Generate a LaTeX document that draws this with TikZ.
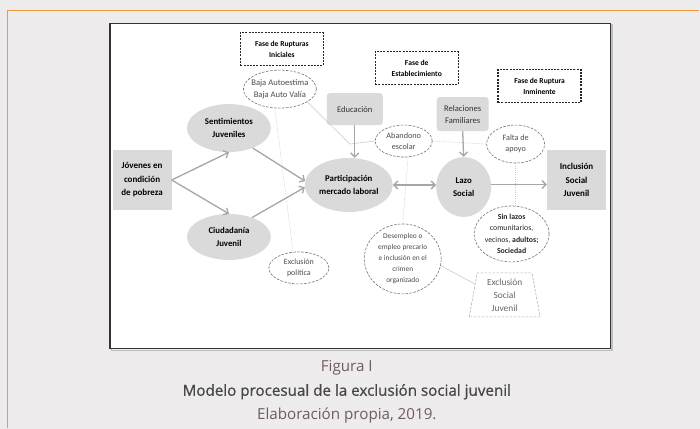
\documentclass[tikz,border=0pt]{standalone}
\usepackage{fontspec}
\setmainfont{Carlito}
\newfontfamily\piefont{Open Sans}
\newfontfamily\piefontgruesa[FakeBold=0.7]{Open Sans}
\usepackage{xcolor}
\usetikzlibrary{shapes.geometric,arrows.meta}
\definecolor{fondo}{RGB}{237,235,235}
\definecolor{naranja}{RGB}{242,153,61}
\definecolor{relleno}{RGB}{218,218,218}
\definecolor{flechagris}{RGB}{166,166,166}
\definecolor{pietexto}{RGB}{112,92,96}

\begin{document}
\begin{tikzpicture}[scale=1.000000,x=1pt,y=1pt,
  fase/.style={draw=black!85,line width=1.3pt,dash pattern=on 2pt off 1.2pt,fill=white,inner sep=0pt,align=center,font=\fontsize{7.6}{11}\selectfont\bfseries,minimum width=83pt,minimum height=33pt},
  ruptura/.style={ellipse,draw=black!55,line width=0.6pt,dash pattern=on 2.6pt off 1.4pt,fill=white,inner sep=-6pt,align=center,text=black!70,font=\fontsize{7.4}{11}\selectfont},
  etapa/.style={ellipse,fill=relleno,inner sep=-4pt,align=center,font=\fontsize{8.8}{12.5}\selectfont\bfseries},
  cuadro/.style={rectangle,fill=relleno,inner sep=0pt,align=center,font=\fontsize{9}{13.5}\selectfont\bfseries},
  ambito/.style={rectangle,rounded corners=3pt,fill=relleno,inner sep=0pt,align=center,text=black!80,font=\fontsize{8.6}{12}\selectfont},
  flecha/.style={draw=flechagris,line width=1.3pt,-{Straight Barb[length=4pt,width=8pt]}},
  flechados/.style={flecha,{Straight Barb[length=4pt,width=8pt]}-{Straight Barb[length=4pt,width=8pt]}},
  enlace/.style={draw=black!22,line width=0.5pt},
  punteado/.style={enlace,dash pattern=on 1pt off 1.2pt},
]
% Drawing page and frame
\filldraw[color=fondo] (0.000000,0.000000) rectangle (700.000000,-428.000000);
\draw[color=naranja,line width=1.2pt] (7.000000,-428.000000) -- (7.000000,-10.500000) -- (700.000000,-10.500000);
\draw[color=black!25,line width=1.5pt] (111.500000,-24.500000) rectangle (612.500000,-350.500000);
\filldraw[fill=white,draw=black!80,line width=1.3pt] (110.000000,-23.000000) rectangle (611.000000,-349.000000);
% Done with frame; drawing phases
\node[fase] (rupturas) at (282.000000,-49.000000) {Fase de Rupturas\\Iniciales};
\node[fase] (establecimiento) at (417.000000,-68.000000) {Fase de\\Establecimiento};
\node[fase] (inminente) at (540.000000,-86.000000) {Fase de Ruptura\\Inminente};
% Drawing nodes
\node[ruptura,minimum width=73pt,minimum height=38pt,font=\fontsize{8.6}{11.5}\selectfont] (autoestima) at (280.000000,-89.000000) {Baja Autoestima\\Baja Auto Valía};
\node[ambito,minimum width=56pt,minimum height=32pt] (educacion) at (355.000000,-109.000000) {Educación};
\node[ambito,minimum width=52pt,minimum height=34pt] (familia) at (463.000000,-114.000000) {Relaciones\\Familiares};
\node[etapa,minimum width=84pt,minimum height=48pt] (sentimientos) at (229.000000,-128.000000) {Sentimientos\\Juveniles};
\node[cuadro,minimum width=59pt,minimum height=60pt] (jovenes) at (142.000000,-180.000000) {Jóvenes en\\condición\\de pobreza};
\node[etapa,minimum width=84pt,minimum height=46pt] (ciudadania) at (229.000000,-237.000000) {Ciudadanía\\Juvenil};
\node[etapa,minimum width=88pt,minimum height=54pt] (mercado) at (349.000000,-185.000000) {Participación\\mercado laboral};
\node[ruptura,minimum width=57pt,minimum height=32pt,font=\fontsize{8.2}{11}\selectfont] (abandono) at (404.000000,-141.000000) {Abandono\\escolar};
\node[etapa,minimum width=55pt,minimum height=60pt] (lazo) at (464.000000,-187.000000) {Lazo\\Social};
\node[ruptura,minimum width=58pt,minimum height=38pt,font=\fontsize{8.2}{11}\selectfont] (apoyo) at (516.000000,-144.000000) {Falta de\\apoyo};
\node[cuadro,minimum width=59pt,minimum height=61pt] (inclusion) at (577.000000,-180.000000) {Inclusión\\Social\\Juvenil};
\node[ruptura,minimum width=75pt,minimum height=56pt,text=black!85,font=\fontsize{7.8}{11.5}\selectfont] (sinlazos) at (512.000000,-234.000000) {\textbf{Sin lazos}\\comunitarios,\\vecinos, \textbf{adultos;}\\\textbf{Sociedad}};
\node[ruptura,minimum width=77pt,minimum height=70pt] (desempleo) at (403.000000,-259.000000) {Desempleo o\\empleo precario\\e inclusión en el\\crimen\\organizado};
\node[ruptura,minimum width=60pt,minimum height=32pt,font=\fontsize{8}{11}\selectfont] (politica) at (299.000000,-268.000000) {Exclusión\\política};
\node[trapezium,trapezium angle=76,trapezium stretches body,draw=black!30,line width=0.6pt,dash pattern=on 2.6pt off 1.4pt,minimum width=71pt,minimum height=44pt,inner sep=0pt,align=center,text=black!60,font=\fontsize{9.4}{13}\selectfont] (exclusion) at (505.000000,-295.000000) {Exclusión\\Social\\Juvenil};
% Done with nodes; drawing faint links
\coordinate (quiebre) at (350.000000,-144.000000);
\draw[punteado] (autoestima.255) -- (politica.110);
\draw[enlace] (autoestima.-25) -- (quiebre) -- (abandono.west);
\draw[punteado] (abandono.east) -- (apoyo.west);
\draw[punteado] (abandono.-75) -- (desempleo.north);
\draw[punteado] (apoyo.south) -- (apoyo.south |- sinlazos.north);
\draw[enlace] (desempleo.-10) -- (exclusion.160);
% Drawing arrows
\draw[flecha] (jovenes.east) -- (sentimientos.south);
\draw[flecha] (jovenes.east) -- (ciudadania.north);
\draw[flecha] (sentimientos.-40) -- (mercado.175);
\draw[flecha] (ciudadania.40) -- (mercado.183);
\draw[flecha] (educacion.south) -- (educacion.south |- mercado.north);
\draw[flechados] (mercado.east) -- (mercado.east -| lazo.west);
\draw[flecha] (familia.south) -- (lazo.north);
\draw[flecha] (lazo.5) -- (lazo.5 -| inclusion.west);
% Done with arrows; drawing caption
\node[font=\piefont\fontsize{15.2}{18}\selectfont,text=pietexto] (figura) at (347.000000,-368.000000) {Figura I};
\node[font=\piefontgruesa\fontsize{15.2}{18}\selectfont,text=black!72] (titulo) at (347.000000,-392.000000) {Modelo procesual de la exclusión social juvenil};
\node[font=\piefont\fontsize{15.2}{18}\selectfont,text=pietexto] (fuente) at (347.000000,-416.000000) {Elaboración propia, 2019.};
% Done with caption
\end{tikzpicture}
\end{document}
